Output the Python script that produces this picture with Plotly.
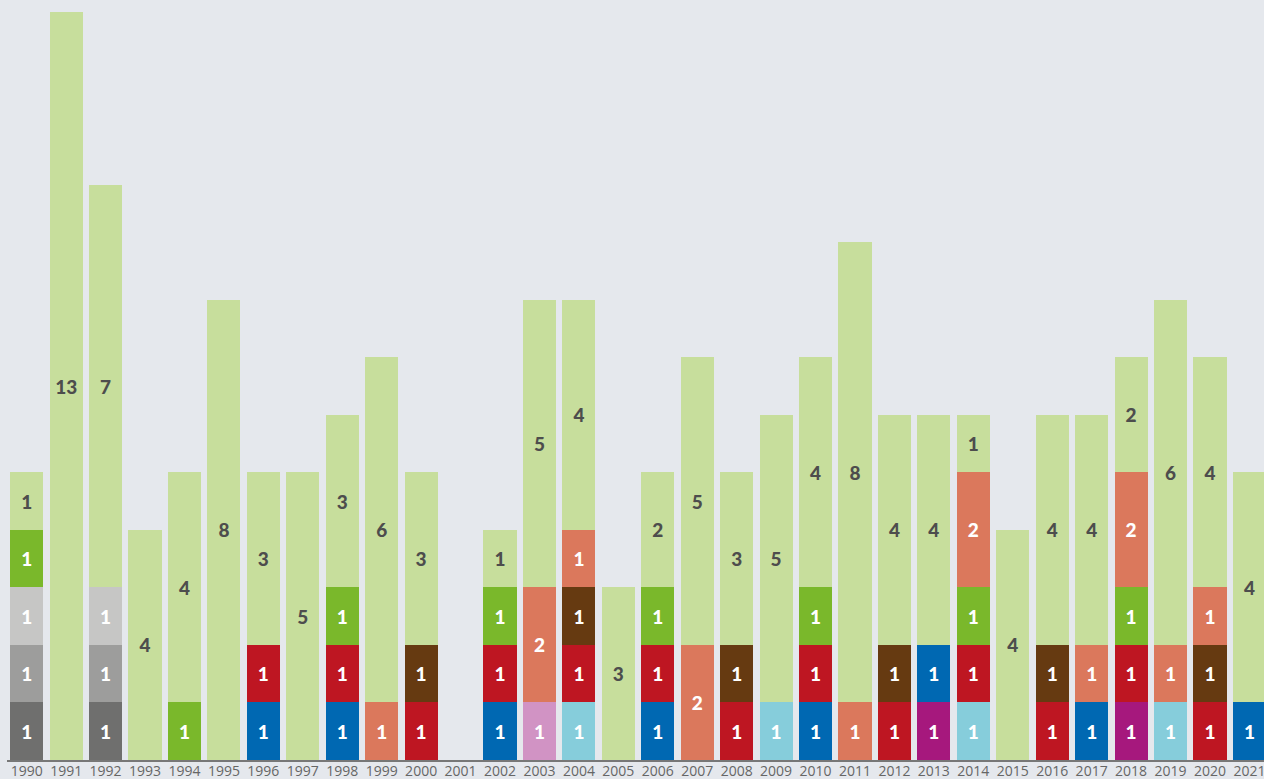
import plotly.graph_objects as go

years = list(range(1990, 2022))
tick_labels = [str(y) for y in years]

# series values per year (1990..2021)
dark_gray  = [1,0,1,0,0,0,0,0,0,0,0,0,0,0,0,0,0,0,0,0,0,0,0,0,0,0,0,0,0,0,0,0]
mid_gray   = [1,0,1,0,0,0,0,0,0,0,0,0,0,0,0,0,0,0,0,0,0,0,0,0,0,0,0,0,0,0,0,0]
light_gray = [1,0,1,0,0,0,0,0,0,0,0,0,0,0,0,0,0,0,0,0,0,0,0,0,0,0,0,0,0,0,0,0]
magenta    = [0,0,0,0,0,0,0,0,0,0,0,0,0,0,0,0,0,0,0,0,0,0,0,1,0,0,0,0,1,0,0,0]
pink       = [0,0,0,0,0,0,0,0,0,0,0,0,0,1,0,0,0,0,0,0,0,0,0,0,0,0,0,0,0,0,0,0]
cyan       = [0,0,0,0,0,0,0,0,0,0,0,0,0,0,1,0,0,0,0,1,0,0,0,0,1,0,0,0,0,1,0,0]
blue       = [0,0,0,0,0,0,1,0,1,0,0,0,1,0,0,0,1,0,0,0,1,0,0,1,0,0,0,1,0,0,0,1]
red        = [0,0,0,0,0,0,1,0,1,0,1,0,1,0,1,0,1,0,1,0,1,0,1,0,1,0,1,0,1,0,1,0]
brown      = [0,0,0,0,0,0,0,0,0,0,1,0,0,0,1,0,0,0,1,0,0,0,1,0,0,0,1,0,0,0,1,0]
green      = [1,0,0,0,1,0,0,0,1,0,0,0,1,0,0,0,1,0,0,0,1,0,0,0,1,0,0,0,1,0,0,0]
salmon     = [0,0,0,0,0,0,0,0,0,1,0,0,0,2,1,0,0,2,0,0,0,1,0,0,2,0,0,1,2,1,1,0]
light_green= [1,13,7,4,4,8,3,5,3,6,3,0,1,5,4,3,2,5,3,5,4,8,4,4,1,4,4,4,2,6,4,4]

series = [
    ("dark_gray", dark_gray, "#6f6f6e", "white"),
    ("mid_gray", mid_gray, "#9d9d9c", "white"),
    ("light_gray", light_gray, "#c6c6c5", "white"),
    ("magenta", magenta, "#a6187d", "white"),
    ("pink", pink, "#d193c4", "white"),
    ("cyan", cyan, "#86cddb", "white"),
    ("blue", blue, "#0068b2", "white"),
    ("red", red, "#be1622", "white"),
    ("brown", brown, "#663a11", "white"),
    ("green", green, "#7ab82b", "white"),
    ("salmon", salmon, "#db785c", "white"),
    ("light_green", light_green, "#c7de9c", "#4d4d4d"),
]

fig = go.Figure()
for name, vals, color, tcolor in series:
    fig.add_trace(go.Bar(
        x=years,
        y=[v if v else None for v in vals],
        text=[str(v) if v else "" for v in vals],
        name=name,
        marker=dict(color=color, line=dict(width=0)),
        width=0.84,
        textposition="inside",
        insidetextanchor="middle",
        textangle=0,
        constraintext="none",
        textfont=dict(family="Lato", size=19, color=tcolor, weight=900),
        hoverinfo="skip",
    ))

fig.update_layout(
    barmode="stack",
    width=1264, height=779,
    margin=dict(l=7, r=0, t=12, b=19, autoexpand=False),
    paper_bgcolor="#e5e8ed",
    plot_bgcolor="#e5e8ed",
    showlegend=False,
    uniformtext=dict(mode=False),
    xaxis=dict(
        range=[1989.5, 2021.37],
        tickmode="array", tickvals=years, ticktext=tick_labels,
        showgrid=False, zeroline=False,
        showline=True, linecolor="#777777", linewidth=2,
        ticks="", ticklen=0,
        ticklabeloverflow="allow",
        ticklabelstandoff=-3,
        tickfont=dict(family="Open Sans", size=14, color="#666666"),
        automargin=False,
    ),
    yaxis=dict(
        range=[0, 13], visible=False, showgrid=False, zeroline=False,
    ),
)

fig.write_html(
    "out.html",
    config={"displayModeBar": False},
    post_script="document.body.style.margin='0';document.body.style.overflow='hidden';",
)
